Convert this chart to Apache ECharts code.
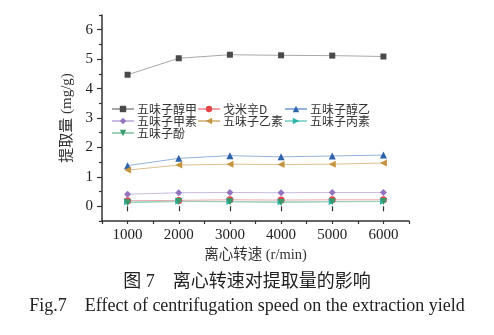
<!DOCTYPE html>
<html><head><meta charset="utf-8">
<script src="https://cdn.jsdelivr.net/npm/echarts@6/dist/echarts.min.js"></script>
<style>html,body{margin:0;padding:0;background:#fff}#c{width:494px;height:335px}</style>
</head><body><div id="c"></div>
<script>
var speeds = [1000, 2000, 3000, 4000, 5000, 6000];
var yTicks = [0, 1, 2, 3, 4, 5, 6];
var yMinor = [-0.5, 0.5, 1.5, 2.5, 3.5, 4.5, 5.5, 6.5];
var names = ['五味子醇甲', '戈米辛D', '五味子醇乙', '五味子甲素', '五味子乙素', '五味子丙素', '五味子酚'];
var chunMiJia = [4.47, 5.03, 5.15, 5.13, 5.12, 5.09];
var geMiXinD = [0.19, 0.20, 0.22, 0.21, 0.22, 0.22];
var chunYi = [1.38, 1.63, 1.72, 1.68, 1.71, 1.74];
var jiaSu = [0.41, 0.46, 0.47, 0.46, 0.47, 0.47];
var yiSu = [1.23, 1.40, 1.43, 1.42, 1.43, 1.47];
var bingSu = [0.15, 0.17, 0.16, 0.15, 0.16, 0.17];
var fen = [0.12, 0.16, 0.15, 0.13, 0.15, 0.16];

var seriesValues = [chunMiJia, geMiXinD, chunYi, jiaSu, yiSu, bingSu, fen];
var markerColors = ['#4a4a4a', '#e5454d', '#2d62aa', '#9474c0', '#c4953e', '#2bb3ac', '#3a9a6a'];
var lineColors = ['#a8a8a8', '#f2a5a8', '#94b3da', '#c9bbe1', '#dcc08e', '#92d8d2', '#9fd0b6'];
var symbols = ['rect', 'circle', 'triangle', 'diamond', 'triangle', 'triangle', 'triangle'];
var rotates = [0, 0, 0, 0, 90, -90, 180];
var sizes = [6, 7, 7, 7, 7, 7, 7];

var SERIF = '"Liberation Serif", "Times New Roman", "Noto Sans CJK SC", serif';
var chart = echarts.init(document.getElementById('c'));

var series = names.map(function (n, i) {
  return {
    name: n, type: 'line', xAxisIndex: 0, yAxisIndex: 0,
    data: speeds.map(function (s, k) { return [s, seriesValues[i][k]]; }),
    symbol: symbols[i], symbolRotate: rotates[i], symbolSize: sizes[i],
    showAllSymbol: true,
    itemStyle: { color: markerColors[i] },
    lineStyle: { color: lineColors[i], width: 1 },
    emphasis: { disabled: true },
    animation: false
  };
});

function mkLegend(data, left) {
  return {
    orient: 'vertical', left: left, top: 103, itemGap: 0,
    itemWidth: 22, itemHeight: 8, padding: 0,
    data: data,
    textStyle: { fontSize: 12, color: '#333', fontFamily: '"Noto Sans CJK SC", sans-serif', padding: [0, 0, 0, -2] },
    selectedMode: false
  };
}

chart.setOption({
  animation: false,
  grid: { left: 102, right: 85, top: 15, bottom: 114 },
  legend: [
    mkLegend(['五味子醇甲', '五味子甲素', '五味子酚'], 111),
    mkLegend(['戈米辛D', '五味子乙素'], 197),
    mkLegend(['五味子醇乙', '五味子丙素'], 284)
  ],
  xAxis: [{
    type: 'value', min: 500, max: 6500, interval: 500,
    axisLine: { show: true, onZero: false, lineStyle: { color: '#333', width: 1.5 } },
    axisTick: { show: true, inside: false, length: 3, lineStyle: { color: '#333', width: 1.2 } },
    axisLabel: { customValues: speeds, margin: 7, fontSize: 15, color: '#222', fontFamily: SERIF,
      formatter: function (v) { return String(v); } },
    splitLine: { show: false },
    name: '离心转速 (r/min)', nameLocation: 'middle', nameGap: 25,
    nameTextStyle: { fontSize: 14.5, color: '#333', fontFamily: SERIF }
  }, {
    type: 'value', min: 500, max: 6500, position: 'bottom', gridIndex: 0,
    axisLine: { show: false },
    axisTick: { show: true, customValues: speeds, length: 5, lineStyle: { color: '#333', width: 1.2 } },
    axisLabel: { show: false }, splitLine: { show: false }
  }],
  yAxis: [{
    type: 'value', min: -0.5, max: 6.5, interval: 0.5,
    axisLine: { show: true, onZero: false, lineStyle: { color: '#333', width: 1.5 } },
    axisTick: { show: true, inside: false, customValues: yTicks, length: 5, lineStyle: { color: '#333', width: 1.2 } },
    axisLabel: { customValues: yTicks, margin: 9, fontSize: 15, color: '#222', fontFamily: SERIF },
    splitLine: { show: false },
    name: '提取量 (mg/g)', nameLocation: 'middle', nameGap: 26,
    nameTextStyle: { fontSize: 15, color: '#333', fontFamily: SERIF }
  }, {
    type: 'value', min: -0.5, max: 6.5, position: 'left',
    axisLine: { show: false },
    axisTick: { show: true, customValues: yMinor, length: 3, lineStyle: { color: '#333', width: 1.2 } },
    axisLabel: { show: false }, splitLine: { show: false }
  }],
  graphic: [{
    type: 'text', left: 'center', top: 273,
    style: { text: '图 7　离心转速对提取量的影响', fontSize: 18, fill: '#222', fontFamily: SERIF }
  }, {
    type: 'text', left: 'center', top: 297,
    style: { text: 'Fig.7　Effect of centrifugation speed on the extraction yield', fontSize: 18, fill: '#222', fontFamily: SERIF }
  }],
  series: series
});
</script></body></html>
